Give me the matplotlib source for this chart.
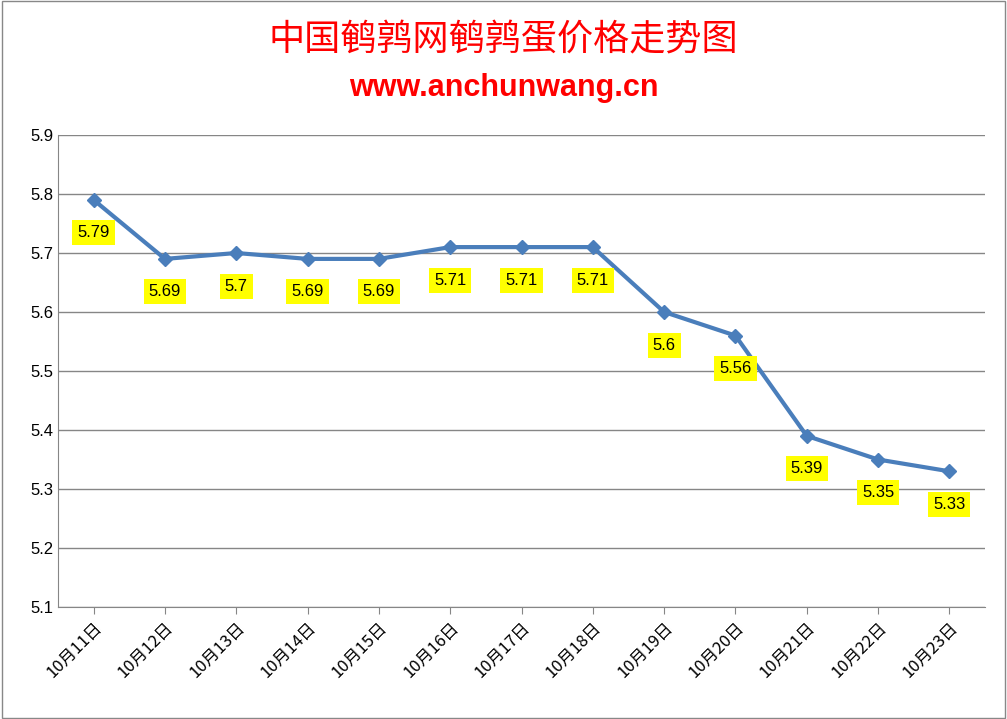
import matplotlib
matplotlib.use("Agg")
import matplotlib.pyplot as plt
from matplotlib.patches import Rectangle

plt.rcParams['font.family'] = ['Noto Sans CJK SC', 'DejaVu Sans']

dates = ["10月11日","10月12日","10月13日","10月14日","10月15日","10月16日","10月17日",
         "10月18日","10月19日","10月20日","10月21日","10月22日","10月23日"]
prices = [5.79,5.69,5.7,5.69,5.69,5.71,5.71,5.71,5.6,5.56,5.39,5.35,5.33]
labels = ["5.79","5.69","5.7","5.69","5.69","5.71","5.71","5.71","5.6","5.56","5.39","5.35","5.33"]
yticks = [5.1,5.2,5.3,5.4,5.5,5.6,5.7,5.8,5.9]

fig = plt.figure(figsize=(10.07,7.19), dpi=100)
fig.patches.append(Rectangle((0.002,0.002),0.996,0.996,transform=fig.transFigure,
                             fill=False,edgecolor='#888888',lw=1))
ax = fig.add_axes([58/1007, 1-607/719, (985-58)/1007, (607-135)/719])
x = list(range(len(dates)))
ax.plot(x, prices, color='#4a7ebb', lw=3, marker='D', ms=7, zorder=3)
for xi, p, l in zip(x, prices, labels):
    ax.annotate(l, (xi, p), xytext=(0, -33), textcoords='offset points' if False else 'offset pixels',
                ha='center', va='center', fontsize=12, family='Liberation Sans',
                bbox=dict(boxstyle='square,pad=0.3', fc='#ffff00', ec='none'))
ax.set_xlim(-0.5, len(dates)-0.5)
ax.set_ylim(5.1, 5.9)
ax.set_yticks(yticks)
ax.set_yticklabels([f"{v:.1f}" for v in yticks], fontsize=12, family='Liberation Sans')
ax.set_xticks(x)
ax.set_xticklabels(dates, rotation=45, ha='right', rotation_mode='anchor', fontsize=12)
ax.grid(axis='y', color='#868686', lw=1)
ax.set_axisbelow(True)
for s in ['top','right']:
    ax.spines[s].set_visible(False)
ax.spines['left'].set_color('#868686')
ax.spines['bottom'].set_color('#868686')
ax.tick_params(axis='y', length=0)
ax.tick_params(axis='x', length=5, color='#868686')
fig.text(0.5, 1-40/719, "中国鹌鹑网鹌鹑蛋价格走势图", ha='center', va='center',
         fontsize=26, color='red', family='Noto Serif CJK SC' if False else 'Noto Sans CJK SC')
fig.text(0.5, 1-88/719, "www.anchunwang.cn", ha='center', va='center',
         fontsize=22, color='red', weight='bold', family='Liberation Sans')
fig.savefig("out.png", dpi=100)
